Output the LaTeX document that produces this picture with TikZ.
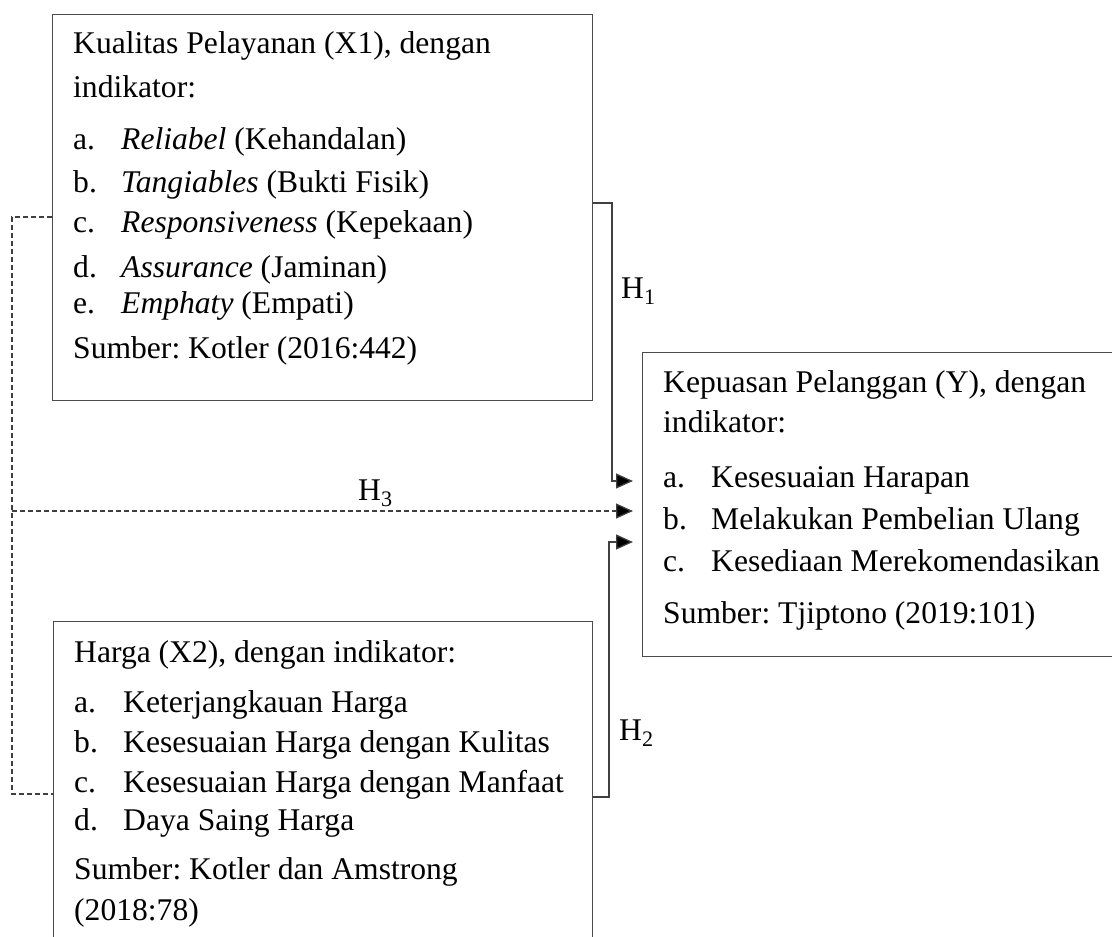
\documentclass[tikz,border=0pt]{standalone}
\usepackage{fontspec}
\setmainfont{Liberation Serif}
\usetikzlibrary{arrows.meta}
\frenchspacing
\tikzset{
  box/.style={draw=black!70, line width=1.4pt, inner sep=0pt, anchor=north west},
  txt/.style={anchor=base west, inner sep=0pt, font=\fontsize{31.6}{37}\selectfont},
  conn/.style={draw=black!75, line width=1.3pt},
  dconn/.style={conn, dash pattern=on 5pt off 3pt},
  tip/.style={-{Triangle[length=17pt,width=15pt,fill=black]}},
}
\begin{document}
\begin{tikzpicture}[x=1pt,y=-1pt]
\useasboundingbox (0,0) rectangle (1112,937);
\clip (0,0) rectangle (1112,937);
% boxes
\node[box, minimum width=540pt, minimum height=386pt] (x1) at (52,14) {};
\node[box, minimum width=539pt, minimum height=340pt] (x2) at (53,621) {};
\node[box, minimum width=500pt, minimum height=304pt] (y) at (642,352) {};
% X1 text
\node[txt] (x1t1) at (73,53) {Kualitas Pelayanan (X1), dengan};
\node[txt] (x1t2) at (73,97) {indikator:};
\node[txt] (x1la) at (73,149) {a.};
\node[txt] (x1ia) at (121,149) {\textit{Reliabel} (Kehandalan)};
\node[txt] (x1lb) at (73,192) {b.};
\node[txt] (x1ib) at (121,192) {\textit{Tangiables} (Bukti Fisik)};
\node[txt] (x1lc) at (73,232) {c.};
\node[txt] (x1ic) at (121,232) {\textit{Responsiveness} (Kepekaan)};
\node[txt] (x1ld) at (73,277) {d.};
\node[txt] (x1id) at (121,277) {\textit{Assurance} (Jaminan)};
\node[txt] (x1le) at (73,313) {e.};
\node[txt] (x1ie) at (121,313) {\textit{Emphaty} (Empati)};
\node[txt] (x1s) at (73,358) {Sumber: Kotler (2016:442)};
% Y text
\node[txt] (yt1) at (663,392) {Kepuasan Pelanggan (Y), dengan};
\node[txt] (yt2) at (663,432) {indikator:};
\node[txt] (yla) at (663,487) {a.};
\node[txt] (yia) at (711,487) {Kesesuaian Harapan};
\node[txt] (ylb) at (663,529) {b.};
\node[txt] (yib) at (711,529) {Melakukan Pembelian Ulang};
\node[txt] (ylc) at (663,571) {c.};
\node[txt] (yic) at (711,571) {Kesediaan Merekomendasikan};
\node[txt] (ys) at (663,623) {Sumber: Tjiptono (2019:101)};
% X2 text
\node[txt] (x2t1) at (74,662) {Harga (X2), dengan indikator:};
\node[txt] (x2la) at (74,712) {a.};
\node[txt] (x2ia) at (123,712) {Keterjangkauan Harga};
\node[txt] (x2lb) at (74,752) {b.};
\node[txt] (x2ib) at (123,752) {Kesesuaian Harga dengan Kulitas};
\node[txt] (x2lc) at (74,792) {c.};
\node[txt] (x2ic) at (123,792) {Kesesuaian Harga dengan Manfaat};
\node[txt] (x2ld) at (74,830) {d.};
\node[txt] (x2id) at (123,830) {Daya Saing Harga};
\node[txt] (x2s1) at (74,879) {Sumber: Kotler dan Amstrong};
\node[txt] (x2s2) at (74,920) {(2018:78)};
% hypothesis labels
\node[txt] (h1) at (621,298) {H\textsubscript{1}};
\node[txt] (h2) at (619,740) {H\textsubscript{2}};
\node[txt] (h3) at (358,500) {H\textsubscript{3}};
% arrow ends
\coordinate (e1) at (633,481);
\coordinate (e3) at (633,511);
\coordinate (e2) at (633,542);
\coordinate (split) at (12,511);
% connectors
\draw[conn,tip] (x1.north east |- 0,203) -| (612,481) -- (e1);
\draw[conn,tip] (x2.north east |- 0,797) -| (609,542) -- (e2);
\draw[dconn] (x1.north west |- 0,217) -- (12,217) -- (12,794) -- (x2.north west |- 0,794);
\draw[dconn,tip] (split) -- (e3);
\end{tikzpicture}
\end{document}
